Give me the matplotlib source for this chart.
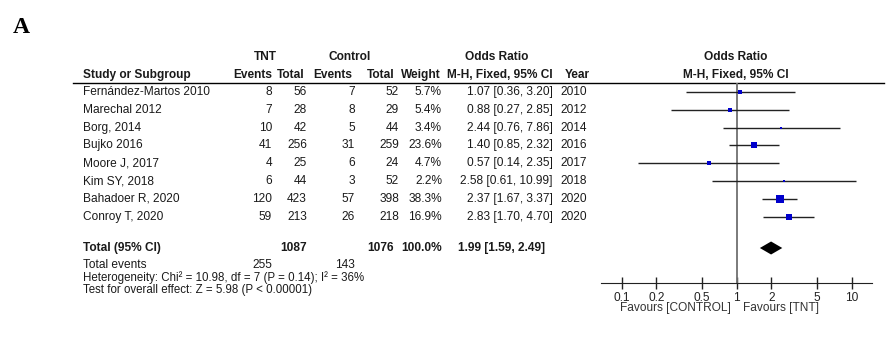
import numpy as np
import matplotlib.pyplot as plt
from matplotlib.ticker import NullLocator

plt.rcParams['font.family'] = ['Liberation Sans', 'DejaVu Sans']

# study data
studies = ['Fernández-Martos 2010', 'Marechal 2012', 'Borg, 2014', 'Bujko 2016',
           'Moore J, 2017', 'Kim SY, 2018', 'Bahadoer R, 2020', 'Conroy T, 2020']
tnt_events = [8, 7, 10, 41, 4, 6, 120, 59]
tnt_total = [56, 28, 42, 256, 25, 44, 423, 213]
ctrl_events = [7, 8, 5, 31, 6, 3, 57, 26]
ctrl_total = [52, 29, 44, 259, 24, 52, 398, 218]
weights = [5.7, 5.4, 3.4, 23.6, 4.7, 2.2, 38.3, 16.9]
odds = [1.07, 0.88, 2.44, 1.40, 0.57, 2.58, 2.37, 2.83]
ci_low = [0.36, 0.27, 0.76, 0.85, 0.14, 0.61, 1.67, 1.70]
ci_high = [3.20, 2.85, 7.86, 2.32, 2.35, 10.99, 3.37, 4.70]
years = [2010, 2012, 2014, 2016, 2017, 2018, 2020, 2020]

# pooled result
total_tnt, total_ctrl = 1087, 1076
events_tnt, events_ctrl = 255, 143
pooled_or, pooled_low, pooled_high = 1.99, 1.59, 2.49

ticks = [0.1, 0.2, 0.5, 1, 2, 5, 10]
tick_labels = ['0.1', '0.2', '0.5', '1', '2', '5', '10']

W, H = 887, 347
fig = plt.figure(figsize=(W / 100, H / 100), dpi=100)

# text layer in pixel coordinates
tab = fig.add_axes([0, 0, 1, 1])
tab.set_xlim(0, W)
tab.set_ylim(H, 0)
tab.axis('off')

fs = 8.6
tc = '#1a1a1a'
row_y = 92 + 17.8 * np.arange(len(studies))
total_y = 248


def t(x, y, s, ha='right', bold=False, size=fs, color=tc):
    tab.text(x, y, s, ha=ha, va='center', fontsize=size, color=color,
             fontweight='bold' if bold else 'normal')


tab.text(21, 27, 'A', family='Liberation Serif', fontweight='bold',
         fontsize=17, ha='center', va='center', color='k')

# headers
t(265, 57, 'TNT', ha='center', bold=True)
t(350, 57, 'Control', ha='center', bold=True)
t(497, 57, 'Odds Ratio', ha='center', bold=True)
t(736, 57, 'Odds Ratio', ha='center', bold=True)
t(83, 75, 'Study or Subgroup', ha='left', bold=True)
t(272, 75, 'Events', bold=True)
t(305, 75, 'Total', bold=True)
t(352, 75, 'Events', bold=True)
t(395, 75, 'Total', bold=True)
t(441, 75, 'Weight', bold=True)
t(553, 75, 'M-H, Fixed, 95% CI', bold=True)
t(590, 75, 'Year', bold=True)
t(736, 75, 'M-H, Fixed, 95% CI', ha='center', bold=True)
tab.plot([73, 884], [82.7, 82.7], color='k', lw=1)

# study rows
for i, y in enumerate(row_y):
    t(83, y, studies[i], ha='left')
    t(272, y, str(tnt_events[i]))
    t(307, y, str(tnt_total[i]))
    t(355, y, str(ctrl_events[i]))
    t(399, y, str(ctrl_total[i]))
    t(442, y, f'{weights[i]:.1f}%')
    t(553, y, f'{odds[i]:.2f} [{ci_low[i]:.2f}, {ci_high[i]:.2f}]')
    t(587, y, str(years[i]))

# totals
t(83, total_y, 'Total (95% CI)', ha='left', bold=True)
t(307, total_y, str(total_tnt), bold=True)
t(394, total_y, str(total_ctrl), bold=True)
t(442, total_y, '100.0%', bold=True)
t(545, total_y, f'{pooled_or:.2f} [{pooled_low:.2f}, {pooled_high:.2f}]', bold=True)
t(83, 265, 'Total events', ha='left')
t(272, 265, str(events_tnt))
t(355, 265, str(events_ctrl))
t(83, 278, 'Heterogeneity: Chi² = 10.98, df = 7 (P = 0.14); I² = 36%', ha='left', size=8.3)
t(83, 290.5, 'Test for overall effect: Z = 5.98 (P < 0.00001)', ha='left', size=8.3)

# forest plot
fx0, fx1 = 601.4, 872
fy0, fy1 = 82.7, 283.3
fa = fig.add_axes([fx0 / W, 1 - fy1 / H, (fx1 - fx0) / W, (fy1 - fy0) / H])
fa.set_xscale('log')
fa.set_xlim(1 / 15, 15)
fa.set_ylim(fy1, fy0)
fa.patch.set_alpha(0)
for s in ['top', 'left', 'right']:
    fa.spines[s].set_visible(False)
fa.spines['bottom'].set_color('#222222')
fa.set_xticks(ticks)
fa.set_xticklabels(tick_labels)
fa.xaxis.set_minor_locator(NullLocator())
fa.set_yticks([])
fa.tick_params(axis='x', direction='inout', length=8, width=1, pad=2,
               labelsize=fs, colors='#222222')

fa.axvline(1, color='#707070', lw=1.3)
fa.hlines(row_y, ci_low, ci_high, color='#222222', lw=1)
for i, y in enumerate(row_y):
    fa.plot(odds[i], y, 's', ms=np.sqrt(weights[i]) * 1.0,
            color='#0000cc', mew=0)
fa.fill([pooled_low, pooled_or, pooled_high, pooled_or],
        [total_y, total_y - 6.5, total_y, total_y + 6.5], color='k', lw=0)

t(731, 308, 'Favours [CONTROL]', color='#333333')
t(743, 308, 'Favours [TNT]', ha='left', color='#333333')

fig.savefig('out.png', dpi=100)
